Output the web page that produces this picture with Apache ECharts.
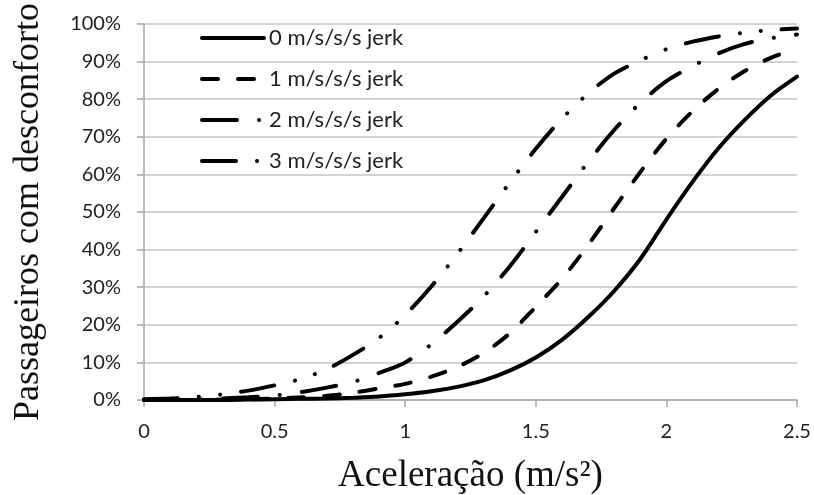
<!DOCTYPE html>
<html>
<head>
    <meta charset="UTF-8">
    <title>jerk</title>
    <script src="https://cdn.jsdelivr.net/npm/echarts@6/dist/echarts.min.js"></script>
    <style>
        *{margin:0;padding:0}
        html,body{width:100%;height:100%;background:#fff}
        #main{width:814px;height:495px}
    </style>
</head>
<body>
    <div id="main"></div>
    <script type="text/javascript">
        // aceleração (m/s²)
        var accel = [0, 0.1, 0.2, 0.3, 0.4, 0.5, 0.6, 0.7, 0.8, 0.9, 1.0, 1.1, 1.2,
                     1.3, 1.4, 1.5, 1.6, 1.7, 1.8, 1.9, 2.0, 2.1, 2.2, 2.3, 2.4, 2.5];
        // % passageiros com desconforto
        var jerk0 = [0, 0, 0, 0, 0.1, 0.2, 0.3, 0.4, 0.6, 0.9, 1.5, 2.3, 3.5,
                     5.2, 7.8, 11.3, 16, 22, 29, 37.5, 48, 58, 67, 74.5, 81, 86];
        var jerk1 = [0, 0, 0, 0.1, 0.2, 0.4, 0.7, 1.1, 1.9, 3.1, 4.3, 6.2, 8.8,
                     12.5, 17.7, 24.8, 32.2, 41.2, 51, 60.6, 69.5, 76.8, 82.8, 87.5, 91, 93.5];
        var jerk2 = [0, 0.1, 0.2, 0.4, 0.7, 1.2, 2.1, 3.3, 4.8, 7.2, 10, 14.8, 20.8,
                     27.5, 35.5, 44.7, 54, 63.3, 71.8, 79, 84.8, 88.8, 92.2, 94.7, 96.2, 97.2];
        var jerk3 = [0.2, 0.4, 0.8, 1.5, 2.5, 3.9, 5.6, 8.2, 12, 16.5, 22.6, 30.2, 38.9,
                     48.3, 57.8, 66.8, 74.8, 81.5, 86.8, 90.3, 93.3, 95.3, 96.7, 97.7, 98.4, 98.8];
        var names = ['0 m/s/s/s jerk', '1 m/s/s/s jerk', '2 m/s/s/s jerk', '3 m/s/s/s jerk'];
        var dashes = ['solid', [16, 20], [35, 22, 0.1, 22], [34, 21, 0.1, 21, 0.1, 21]];

        function pairs(vals) {
            return accel.map(function (a, i) { return [a, vals[i]]; });
        }

        var myChart = echarts.init(document.getElementById('main'));
        var all = [jerk0, jerk1, jerk2, jerk3];
        var series = all.map(function (vals, i) {
            return {
                name: names[i],
                type: 'line',
                data: pairs(vals),
                smooth: 0.3,
                symbol: 'none',
                lineStyle: {color: '#000', width: 4, type: dashes[i], cap: 'round'},
                itemStyle: {color: '#000'},
                z: 3
            };
        });

        var option = {
            animation: false,
            grid: {left: 144, right: 17, top: 24, bottom: 95, outerBoundsMode: 'none'},
            legend: {
                orient: 'vertical',
                left: 195,
                top: 22,
                itemWidth: 62,
                itemHeight: 22,
                itemGap: 19,
                itemStyle: {opacity: 0},   // hide the circle drawn on line icons
                lineStyle: {width: 4, cap: 'round'},
                textStyle: {fontFamily: 'Lato', fontSize: 22, color: '#222', lineHeight: 22},
                data: names
            },
            xAxis: {
                type: 'value',
                min: 0,
                max: 2.5,
                interval: 0.5,
                name: 'Aceleração (m/s²)',
                nameLocation: 'middle',
                nameGap: 58,
                nameTextStyle: {fontFamily: 'Liberation Serif', fontSize: 37, color: '#111'},
                axisLine: {lineStyle: {color: '#a6a6a6', width: 1.5}},
                axisTick: {length: 7, lineStyle: {color: '#a6a6a6', width: 1.5}},
                axisLabel: {fontFamily: 'Lato', fontSize: 20, color: '#222', margin: 22},
                splitLine: {show: false}
            },
            yAxis: {
                type: 'value',
                min: 0,
                max: 100,
                interval: 10,
                name: 'Passageiros com desconforto',
                nameLocation: 'middle',
                nameGap: 97,
                nameTextStyle: {fontFamily: 'Liberation Serif', fontSize: 36, color: '#111'},
                axisLine: {show: true, lineStyle: {color: '#a6a6a6', width: 1.5}},
                axisTick: {show: true, length: 7, lineStyle: {color: '#a6a6a6', width: 1.5}},
                axisLabel: {fontFamily: 'Lato', fontSize: 20, color: '#222', margin: 23, formatter: '{value}%'},
                splitLine: {lineStyle: {color: '#c4c4c4', width: 1.5}}
            },
            series: series
        };
        myChart.setOption(option);
    </script>
</body>
</html>
